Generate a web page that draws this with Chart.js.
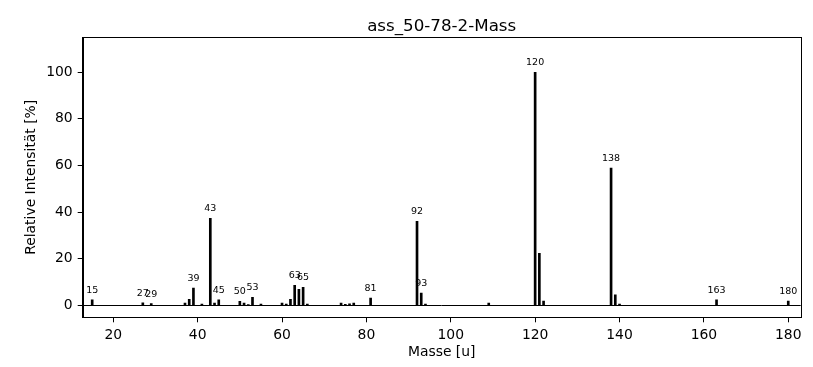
<!DOCTYPE html>
<html>
<head>
<meta charset="utf-8">
<script src="https://cdn.jsdelivr.net/npm/chart.js@4"></script>
<style>
  html, body { margin: 0; padding: 0; background: #fff; }
  #wrap { width: 813px; height: 367px; }
</style>
</head>
<body>
<div id="wrap"><canvas id="spec"></canvas></div>
<script>
// masses (u) and relative intensities (%)
var masses = [15, 27, 29, 37, 38, 39, 41, 43, 44, 45, 50, 51, 52, 53, 55,
              60, 61, 62, 63, 64, 65, 66, 74, 75, 76, 77, 81, 92, 93, 94,
              109, 120, 121, 122, 138, 139, 140, 163, 180];
var intensity = [2.3, 1.1, 0.7, 1.0, 2.6, 7.4, 0.5, 37.3, 0.9, 2.3, 1.7, 0.9, 0.3, 3.4, 0.5,
                 0.9, 0.5, 2.6, 8.6, 6.9, 7.7, 0.5, 0.9, 0.4, 0.6, 0.9, 3.1, 36.0, 5.2, 0.5,
                 0.9, 100, 22.3, 1.8, 58.9, 4.5, 0.5, 2.3, 1.8];
// peaks that carry a mass label
var labelled = [15, 27, 29, 39, 43, 45, 50, 53, 63, 65, 81, 92, 93, 120, 138, 163, 180];
var xTicks = [20, 40, 60, 80, 100, 120, 140, 160, 180];
var yTicks = [0, 20, 40, 60, 80, 100];

var FONT = 'DejaVu Sans';

var points = [];
masses.forEach(function(m, i) {
    points.push({x: m, y: intensity[i]});
});

var peakPlugin = {
    id: 'peaks',
    beforeDatasetsDraw: function(chart) {
        var ctx = chart.ctx, a = chart.chartArea, ys = chart.scales.y;
        var y0 = Math.round(ys.getPixelForValue(0)) + 0.5;
        ctx.save();
        ctx.strokeStyle = '#000';
        ctx.lineWidth = 1;
        ctx.beginPath();
        ctx.moveTo(a.left, y0);
        ctx.lineTo(a.right, y0);
        ctx.stroke();
        ctx.restore();
    },
    afterDatasetsDraw: function(chart) {
        var ctx = chart.ctx, xs = chart.scales.x, ys = chart.scales.y;
        ctx.save();
        ctx.fillStyle = '#000';
        ctx.font = '9.5px "' + FONT + '"';
        ctx.textAlign = 'center';
        ctx.textBaseline = 'alphabetic';
        labelled.forEach(function(m) {
            var v = intensity[masses.indexOf(m)];
            ctx.fillText(String(m), xs.getPixelForValue(m), ys.getPixelForValue(v) - 7);
        });
        ctx.restore();
    },
    afterDraw: function(chart) {
        var ctx = chart.ctx, a = chart.chartArea;
        ctx.save();
        ctx.strokeStyle = '#000';
        ctx.lineWidth = 1;
        ctx.strokeRect(Math.round(a.left) + 0.5, Math.round(a.top) + 0.5,
                       Math.round(a.right - a.left), Math.round(a.bottom - a.top));
        ctx.fillStyle = '#000';
        ctx.font = '16.7px "' + FONT + '"';
        ctx.textAlign = 'center';
        ctx.textBaseline = 'alphabetic';
        ctx.fillText('ass_50-78-2-Mass', (a.left + a.right) / 2, 30.5);
        ctx.restore();
    }
};

new Chart(document.getElementById('spec'), {
    type: 'bar',
    data: {
        datasets: [{
            label: 'Relative Intensität',
            data: points,
            backgroundColor: '#000',
            borderWidth: 0,
            barThickness: 2
        }]
    },
    options: {
        responsive: true,
        maintainAspectRatio: false,
        animation: false,
        layout: { padding: { top: 37.3, right: 12.3, bottom: 0, left: 0 } },
        plugins: {
            legend: { display: false },
            tooltip: { enabled: false },
            title: { display: false }
        },
        scales: {
            x: {
                type: 'linear',
                min: 12.75,
                max: 182.95,
                offset: false,
                afterBuildTicks: function(s) { s.ticks = xTicks.map(function(v) { return {value: v}; }); },
                afterFit: function(s) { s.height = 49.7; },
                grid: { offset: false, drawOnChartArea: false, drawTicks: true, tickLength: 5, color: '#000' },
                border: { display: true, color: '#000' },
                ticks: { color: '#000', padding: 5, maxRotation: 0, font: { family: FONT, size: 13.9 } },
                title: { display: true, text: 'Masse [u]', color: '#000',
                         font: { family: FONT, size: 13.9 }, padding: { top: 0, bottom: 6.2 } }
            },
            y: {
                min: -5.15,
                max: 115,
                afterBuildTicks: function(s) { s.ticks = yTicks.map(function(v) { return {value: v}; }); },
                afterFit: function(s) { s.width = 82.7; },
                grid: { offset: false, drawOnChartArea: false, drawTicks: true, tickLength: 5, color: '#000' },
                border: { display: true, color: '#000' },
                ticks: { color: '#000', padding: 5, font: { family: FONT, size: 13.9 } },
                title: { display: true, text: 'Relative Intensität [%]', color: '#000',
                         font: { family: FONT, size: 13.9 }, padding: { top: 23.5, bottom: 0 } }
            }
        }
    },
    plugins: [peakPlugin]
});
</script>
</body>
</html>
